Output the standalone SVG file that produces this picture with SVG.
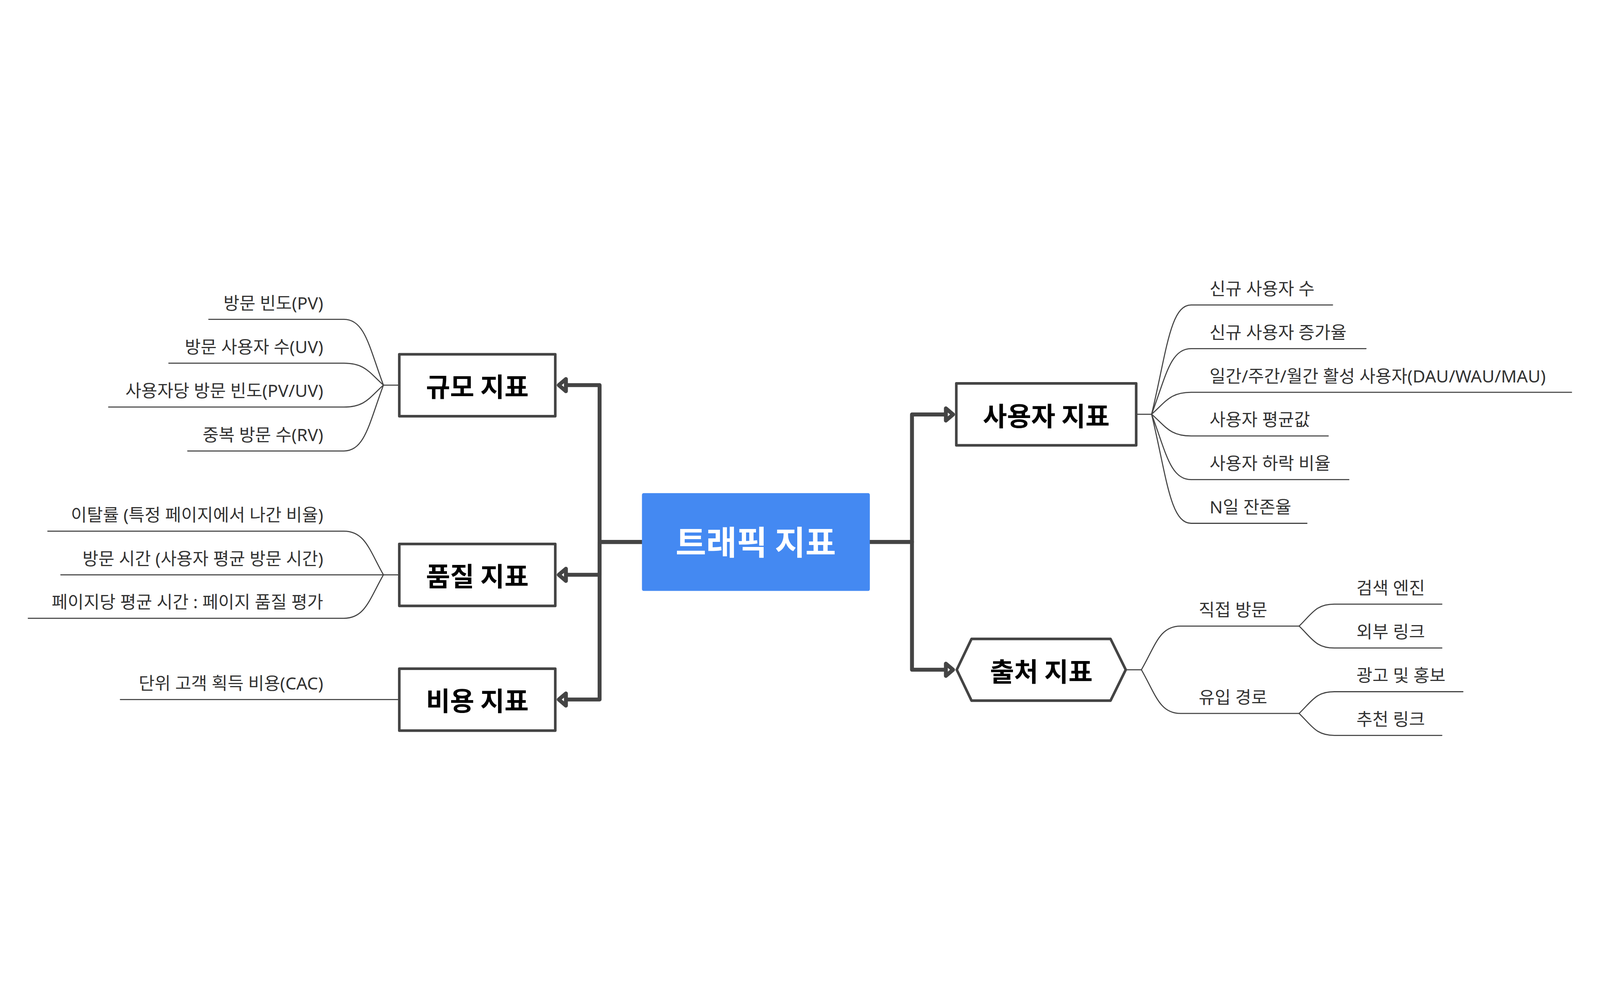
<svg xmlns="http://www.w3.org/2000/svg" width="7365" height="2575" viewBox="0 0 7365 2575" style="width:100vw;height:100vh;display:block">
<style>
text{font-family:"Noto Sans CJK KR","Noto Sans CJK SC","Noto Sans",sans-serif}
.leaf{font-family:"Noto Sans","Noto Sans CJK KR","Noto Sans CJK SC",sans-serif;font-size:80px;fill:#333333}
.main{font-size:121px;font-weight:700;fill:#000000;text-anchor:middle}
.root{font-size:153px;font-weight:700;fill:#ffffff;text-anchor:middle}
.box{fill:#ffffff;stroke:#444444;stroke-width:12;stroke-linejoin:round}
.trunk{fill:none;stroke:#444444;stroke-width:18;stroke-linejoin:round;stroke-linecap:round}
.thin{fill:none;stroke:#444444;stroke-width:5;stroke-linecap:round}
.end{text-anchor:end}
</style>
<defs>
<marker id="arrow" markerUnits="userSpaceOnUse" orient="auto" refX="0" refY="0" markerWidth="60" markerHeight="80" overflow="visible">
<polygon points="0,-28 33,0 0,28" fill="#ffffff" stroke="#444444" stroke-width="18" stroke-linejoin="round"/>
</marker>
</defs>
<rect width="7365" height="2575" fill="#ffffff"/>
<g id="connectors">
<path class="trunk" d="M2955 1467 H2760 V745 H2605" marker-end="url(#arrow)"/>
<path class="trunk" d="M2955 1467 H2760 V1618 H2605" marker-end="url(#arrow)"/>
<path class="trunk" d="M2955 1467 H2760 V2192 H2605" marker-end="url(#arrow)"/>
<path class="trunk" d="M4004 1467 H4198 V880 H4354" marker-end="url(#arrow)"/>
<path class="trunk" d="M4004 1467 H4198 V2055 H4354" marker-end="url(#arrow)"/>
<path class="thin" d="M1838 745 H1765"/>
<path class="thin" d="M1765 745 C1700 572,1680 442,1583 442 H961"/>
<path class="thin" d="M1765 745 C1700 687,1680 644,1583 644 H777"/>
<path class="thin" d="M1765 745 C1700 803,1680 846,1583 846 H500"/>
<path class="thin" d="M1765 745 C1700 918,1680 1048,1583 1048 H864"/>
<path class="thin" d="M1838 1618 H280"/>
<path class="thin" d="M1765 1618 C1700 1503,1680 1417,1583 1417 H220"/>
<path class="thin" d="M1765 1618 C1700 1732,1680 1818,1583 1818 H130"/>
<path class="thin" d="M1838 2192 H554"/>
<path class="thin" d="M5230 879 H5301"/>
<path class="thin" d="M5301 879 C5370 592,5386 376,5483 376 H6134"/>
<path class="thin" d="M5301 879 C5366 707,5386 577,5483 577 H6288"/>
<path class="thin" d="M5301 879 C5366 822,5386 778,5483 778 H7234"/>
<path class="thin" d="M5301 879 C5366 936,5386 979,5483 979 H6114"/>
<path class="thin" d="M5301 879 C5366 1051,5386 1180,5483 1180 H6209"/>
<path class="thin" d="M5301 879 C5370 1166,5386 1381,5483 1381 H6016"/>
<path class="thin" d="M5182 2055 H5254"/>
<path class="thin" d="M5254 2055 C5320 1940,5338 1854,5434 1854 H5980"/>
<path class="thin" d="M5254 2055 C5320 2170,5338 2256,5434 2256 H5980"/>
<path class="thin" d="M5980 1854 C6040 1796,6058 1753,6142 1753 H6637"/>
<path class="thin" d="M5980 1854 C6040 1912,6058 1955,6142 1955 H6637"/>
<path class="thin" d="M5980 2256 C6040 2198,6058 2156,6142 2156 H6734"/>
<path class="thin" d="M5980 2256 C6040 2314,6058 2357,6142 2357 H6637"/>
</g>
<g id="root">
<rect x="2955" y="1242" width="1049" height="450" rx="8" fill="#4489F2"/>
<text class="root" x="3479" y="1526">트래픽 지표</text>
</g>
<g id="scale">
<rect class="box" x="1838" y="603" width="718" height="285"/>
<text class="main" x="2197" y="797">규모 지표</text>
</g>
<g id="quality">
<rect class="box" x="1838" y="1476" width="718" height="285"/>
<text class="main" x="2197" y="1670">품질 지표</text>
</g>
<g id="cost">
<rect class="box" x="1838" y="2050" width="718" height="285"/>
<text class="main" x="2197" y="2244">비용 지표</text>
</g>
<g id="user">
<rect class="box" x="4402" y="737" width="828" height="285"/>
<text class="main" x="4816" y="932">사용자 지표</text>
</g>
<g id="source">
<polygon class="box" points="4404,2055 4472,1913 5112,1913 5182,2055 5112,2197 4472,2197"/>
<text class="main" x="4793" y="2108">출처 지표</text>
</g>
<g id="pv"><text class="leaf end" x="1488" y="396">방문 빈도(PV)</text></g>
<g id="uv"><text class="leaf end" x="1488" y="598">방문 사용자 수(UV)</text></g>
<g id="pvuv"><text class="leaf end" x="1488" y="800">사용자당 방문 빈도(PV/UV)</text></g>
<g id="rv"><text class="leaf end" x="1488" y="1002">중복 방문 수(RV)</text></g>
<g id="bounce"><text class="leaf end" x="1488" y="1371">이탈률 (특정 페이지에서 나간 비율)</text></g>
<g id="visittime"><text class="leaf end" x="1488" y="1572">방문 시간 (사용자 평균 방문 시간)</text></g>
<g id="pagetime"><text class="leaf end" x="1488" y="1772">페이지당 평균 시간 : 페이지 품질 평가</text></g>
<g id="cac"><text class="leaf end" x="1488" y="2146">단위 고객 획득 비용(CAC)</text></g>
<g id="newusers"><text class="leaf" x="5568" y="330">신규 사용자 수</text></g>
<g id="newrate"><text class="leaf" x="5568" y="531">신규 사용자 증가율</text></g>
<g id="active"><text class="leaf" x="5568" y="732">일간/주간/월간 활성 사용자(DAU/WAU/MAU)</text></g>
<g id="avg"><text class="leaf" x="5568" y="933">사용자 평균값</text></g>
<g id="decline"><text class="leaf" x="5568" y="1134">사용자 하락 비율</text></g>
<g id="retention"><text class="leaf" x="5568" y="1335">N일 잔존율</text></g>
<g id="direct"><text class="leaf" x="5518" y="1808">직접 방문</text></g>
<g id="inflow"><text class="leaf" x="5518" y="2210">유입 경로</text></g>
<g id="search"><text class="leaf" x="6244" y="1707">검색 엔진</text></g>
<g id="external"><text class="leaf" x="6244" y="1909">외부 링크</text></g>
<g id="ads"><text class="leaf" x="6244" y="2110">광고 및 홍보</text></g>
<g id="referral"><text class="leaf" x="6244" y="2311">추천 링크</text></g>
</svg>
